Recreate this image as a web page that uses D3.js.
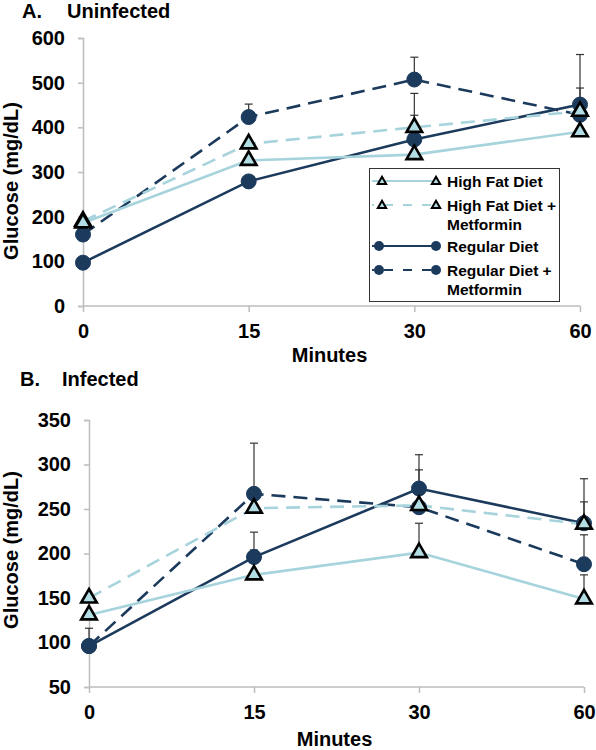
<!DOCTYPE html>
<html><head><meta charset="utf-8">
<script src="https://cdn.jsdelivr.net/npm/d3@7"></script>
<style>
body{margin:0;background:#fff;}
svg{display:block;font-family:"Liberation Sans",Arial,sans-serif;font-weight:bold;}
</style></head>
<body><svg id="c" width="596" height="750"></svg>
<script>
// ---- data ----
const minutes = ["0","15","30","60"];
const seriesNames = ["High Fat Diet","High Fat Diet + Metformin","Regular Diet","Regular Diet + Metformin"];
// Panel A: Uninfected
const uninfHFD   = [186, 326, 339, 390];
const uninfHFDM  = [190, 363, 400, 436];
const uninfRD    = [97, 279, 373, 451];
const uninfRDM   = [160, 423, 507, 428];
const uninfErrHFD  = [0, 0, 0, 0];
const uninfErrHFDM = [0, 0, 27, 52];
const uninfErrRD   = [0, 0, 103, 112];
const uninfErrRDM  = [0, 29, 50, 0];
const uninfTicks = [0,100,200,300,400,500,600];
// Panel B: Infected
const infHFD   = [131, 176, 201, 149];
const infHFDM  = [150, 251, 254, 233];
const infRD    = [96, 196, 273, 234];
const infRDM   = [96, 267, 252, 188];
const infErrHFD  = [0, 28, 33, 27];
const infErrHFDM = [0, 0, 40, 25];
const infErrRD   = [20, 28, 38, 50];
const infErrRDM  = [0, 57, 0, 33];
const infTicks = [50,100,150,200,250,300,350];

const LIGHT = "#a6d3dc", LIGHTFILL = "#b3dde4", DARK = "#1b3a5c";
const styles = [
  {color: LIGHT, dash: null, marker: "tri"},
  {color: LIGHT, dash: "14,8", marker: "tri"},
  {color: DARK, dash: null, marker: "circ"},
  {color: DARK, dash: "14,8", marker: "circ"}
];

const svg = d3.select("#c");

function panel(cfg){
  const g = svg.append("g");
  const x = d3.scalePoint().domain(minutes).range(cfg.xr);
  const y = d3.scaleLinear().domain(cfg.yd).range(cfg.yr);
  const ya = d3.axisLeft(y).tickValues(cfg.ticks).tickSize(5).tickPadding(13);
  const yg = g.append("g").attr("transform",`translate(${cfg.xr[0]},0)`).call(ya);
  const xa = d3.axisBottom(x).tickSize(6).tickPadding(12);
  const xg = g.append("g").attr("transform",`translate(0,${cfg.yr[0]})`).call(xa);
  [yg,xg].forEach(a=>{
    a.select(".domain").attr("stroke","#bdbdbd").attr("stroke-width",1.5);
    a.selectAll(".tick line").attr("stroke","#bdbdbd").attr("stroke-width",1.5);
    a.selectAll(".tick text").attr("fill","#000").style("font-size","20px").style("font-weight","bold").style("font-family","'Liberation Sans',Arial,sans-serif");
  });
  xg.select(".domain").attr("d",`M${cfg.xr[0]},0H${cfg.xr[1]}`);
  g.append("text").attr("x",cfg.titleX).attr("y",cfg.titleY).style("font-size","20px").text(cfg.letter);
  g.append("text").attr("x",cfg.titleX2).attr("y",cfg.titleY).style("font-size","20px").text(cfg.title);
  g.append("text").attr("x",(cfg.xr[0]+cfg.xr[1])/2 - 2).attr("y",cfg.xlabY).attr("text-anchor","middle").style("font-size","20px").text("Minutes");
  g.append("text").attr("transform",`translate(18,${cfg.ylabC}) rotate(-90)`).attr("text-anchor","middle").style("font-size","20px").text("Glucose (mg/dL)");

  const order = [3,2,1,0];
  const line = d3.line().x((d,i)=>x(minutes[i])).y(d=>y(d));
  order.forEach(si=>{
    cfg.data[si].forEach((v,i)=>{
      const e = cfg.err[si][i];
      if(!e) return;
      const cx = x(minutes[i]);
      g.append("line").attr("x1",cx).attr("x2",cx).attr("y1",y(v)).attr("y2",y(v+e)).attr("stroke","#333").attr("stroke-width",1.2);
      g.append("line").attr("x1",cx-4).attr("x2",cx+4).attr("y1",y(v+e)).attr("y2",y(v+e)).attr("stroke","#333").attr("stroke-width",1.2);
    });
  });
  order.forEach(si=>{
    const st = styles[si];
    g.append("path").datum(cfg.data[si]).attr("d",line).attr("fill","none")
      .attr("stroke",st.color).attr("stroke-width",2.6).attr("stroke-dasharray",st.dash);
  });
  order.forEach(si=>{
    const st = styles[si];
    cfg.data[si].forEach((v,i)=>{
      drawMarker(g, st.marker, x(minutes[i]), y(v), 1);
    });
  });
  return g;
}

function drawMarker(g, type, cx, cy, s){
  if(type==="circ"){
    g.append("circle").attr("cx",cx).attr("cy",cy).attr("r",7.5*s).attr("fill",DARK).attr("stroke",DARK).attr("stroke-width",1);
  } else {
    g.append("path").attr("d",d3.symbol(d3.symbolTriangle, 105*s*s)()).attr("transform",`translate(${cx},${cy})`)
      .attr("fill",LIGHTFILL).attr("stroke","#000").attr("stroke-width",2.6*Math.sqrt(s)).attr("stroke-linejoin","miter");
  }
}

panel({xr:[83,580], yd:[0,600], yr:[306,38], ticks:uninfTicks,
  data:[uninfHFD,uninfHFDM,uninfRD,uninfRDM], err:[uninfErrHFD,uninfErrHFDM,uninfErrRD,uninfErrRDM],
  letter:"A.", title:"Uninfected", titleX:22, titleX2:67, titleY:18, xlabY:362, ylabC:181});
panel({xr:[89,584], yd:[50,350], yr:[687,420], ticks:infTicks,
  data:[infHFD,infHFDM,infRD,infRDM], err:[infErrHFD,infErrHFDM,infErrRD,infErrRDM],
  letter:"B.", title:"Infected", titleX:20, titleX2:62, titleY:386, xlabY:746, ylabC:550});

// legend (panel A)
const lg = svg.append("g");
lg.append("rect").attr("x",369.5).attr("y",168.5).attr("width",190).attr("height",133).attr("fill","#fff").attr("stroke","#333").attr("stroke-width",1);
const legRows = [
  {lineY:181, lines:["High Fat Diet"], ty:187},
  {lineY:205, lines:["High Fat Diet +","Metformin"], ty:211},
  {lineY:246, lines:["Regular Diet"], ty:252},
  {lineY:270, lines:["Regular Diet +","Metformin"], ty:276}
];
legRows.forEach((r,si)=>{
  const st = styles[si];
  lg.append("line").attr("x1",372).attr("x2",437).attr("y1",r.lineY).attr("y2",r.lineY)
    .attr("stroke",st.color).attr("stroke-width",2).attr("stroke-dasharray",st.dash?"9,10":null)
    .attr("stroke-dashoffset", st.dash?-12:0);
  if(st.marker==="tri"){
    lg.append("path").attr("d",d3.symbol(d3.symbolTriangle, 30)()).attr("transform",`translate(382,${r.lineY+0.5})`)
      .attr("fill",LIGHTFILL).attr("stroke","#000").attr("stroke-width",2);
    lg.append("path").attr("d",d3.symbol(d3.symbolTriangle, 30)()).attr("transform",`translate(436,${r.lineY+0.5})`)
      .attr("fill",LIGHTFILL).attr("stroke","#000").attr("stroke-width",2);
  } else {
    lg.append("circle").attr("cx",379).attr("cy",r.lineY).attr("r",5).attr("fill",DARK);
    lg.append("circle").attr("cx",436).attr("cy",r.lineY).attr("r",5).attr("fill",DARK);
  }
  r.lines.forEach((t,k)=>{
    lg.append("text").attr("x",447).attr("y",r.ty+k*18.5).style("font-size","15.5px").text(t);
  });
});
</script></body></html>
